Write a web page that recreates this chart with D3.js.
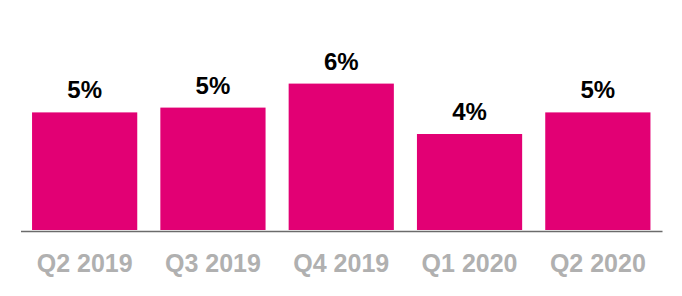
<!DOCTYPE html>
<html>
<head>
<meta charset="utf-8">
<script src="https://cdn.jsdelivr.net/npm/d3@7"></script>
<style>
  html, body { margin: 0; padding: 0; background: #fff; }
  svg { display: block; }
</style>
</head>
<body>
<svg id="chart" width="682" height="296"></svg>
<script>
const categories = ["Q2 2019", "Q3 2019", "Q4 2019", "Q1 2020", "Q2 2020"];
const values = [4.9, 5.1, 6.1, 4.0, 4.9];
const valueLabels = ["5%", "5%", "6%", "4%", "5%"];

const svg = d3.select("#chart");
const W = 682, H = 296;
const baseY = 230;

const x = d3.scaleBand()
  .domain(categories)
  .range([20.5, 662])
  .paddingInner(0.18)
  .paddingOuter(0.09);

const y = d3.scaleLinear()
  .domain([0, 8])
  .range([baseY, 38]);

svg.append("g").selectAll("rect")
  .data(categories)
  .join("rect")
  .attr("x", d => x(d))
  .attr("width", x.bandwidth())
  .attr("y", (d, i) => y(values[i]))
  .attr("height", (d, i) => baseY - y(values[i]))
  .attr("fill", "#E20074");

svg.append("g").selectAll("text")
  .data(categories)
  .join("text")
  .attr("x", d => x(d) + x.bandwidth() / 2)
  .attr("y", (d, i) => y(values[i]) - 14)
  .attr("text-anchor", "middle")
  .attr("font-family", "Liberation Sans, Arial, sans-serif")
  .attr("font-weight", "bold")
  .attr("font-size", 24)
  .attr("fill", "#000")
  .text((d, i) => valueLabels[i]);

const axis = d3.axisBottom(x).tickSize(0).tickPadding(0);
const gx = svg.append("g")
  .attr("transform", `translate(0,${baseY + 1})`)
  .call(axis);
gx.select(".domain")
  .attr("stroke", "#6b6b6b")
  .attr("stroke-width", 1.6);
gx.selectAll(".tick text")
  .attr("y", 41)
  .attr("dy", null)
  .attr("font-family", "Liberation Sans, Arial, sans-serif")
  .attr("font-weight", "bold")
  .attr("font-size", 25)
  .attr("fill", "#b0b0b0");
</script>
</body>
</html>
